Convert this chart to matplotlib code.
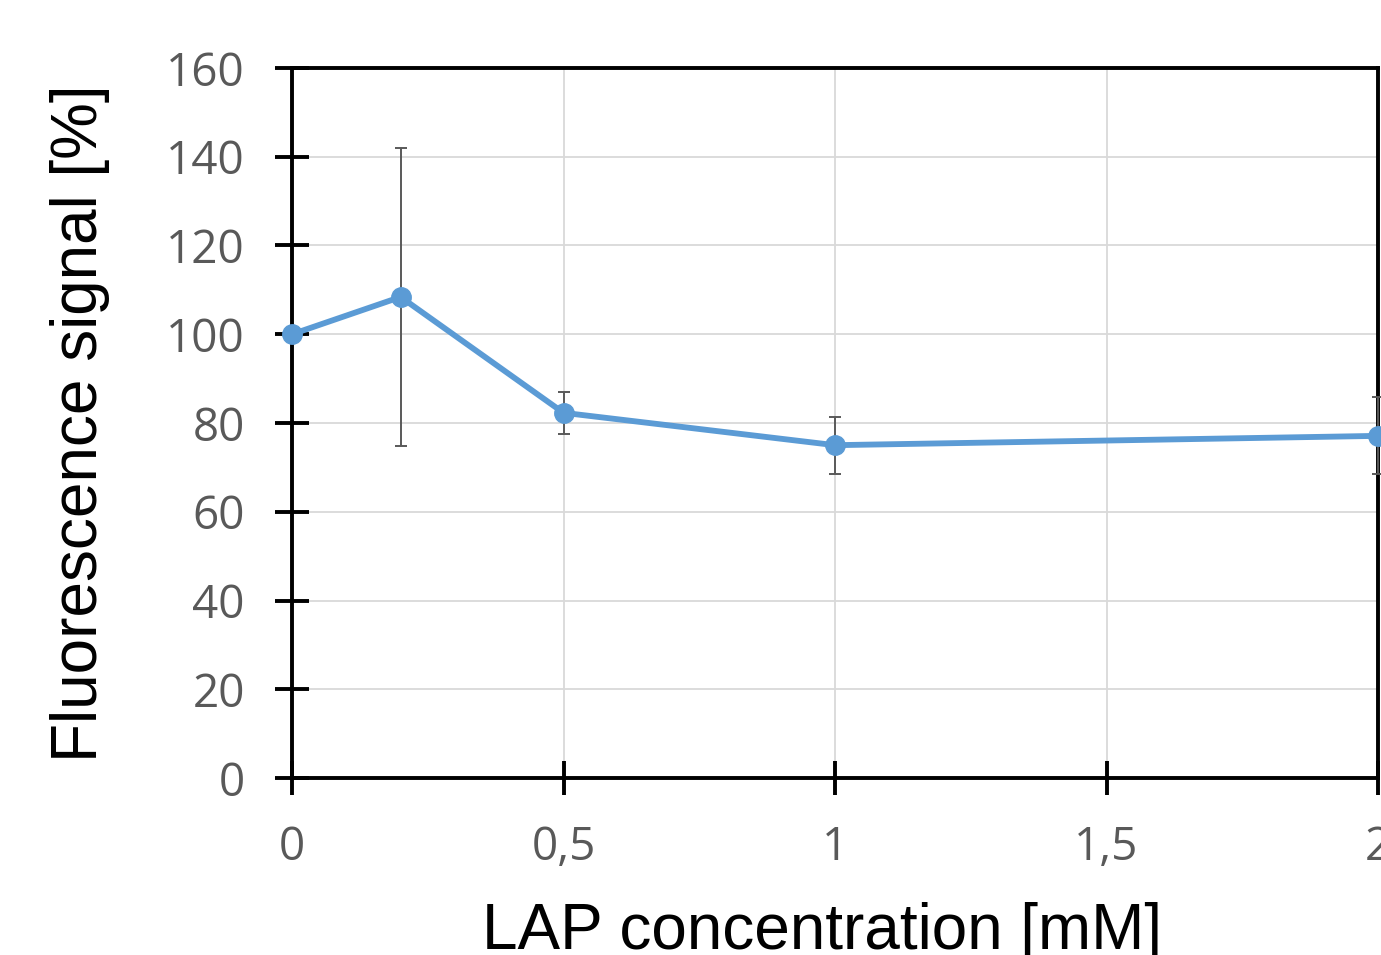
import matplotlib.pyplot as plt
from matplotlib.ticker import FuncFormatter

# Data
lap_mM = [0, 0.2, 0.5, 1, 2]
signal = [100, 108.4, 82.3, 75.0, 77.1]
signal_err = [0, 33.6, 4.7, 6.4, 8.7]

x_ticks = [0, 0.5, 1, 1.5, 2]
y_ticks = [0, 20, 40, 60, 80, 100, 120, 140, 160]

fig = plt.figure(figsize=(13.81, 9.55), dpi=100)
ax = fig.add_axes([292 / 1381, 177 / 955, 1086 / 1381, 710 / 955])

ax.errorbar(lap_mM, signal, yerr=signal_err, color='#5b9bd5', lw=4.2,
            marker='o', ms=14, ecolor='#595959', elinewidth=1.4,
            capsize=4.5, capthick=1.4, clip_on=False, zorder=3)

ax.set_xlim(0, 2)
ax.set_ylim(0, 160)
ax.set_xticks(x_ticks)
ax.set_yticks(y_ticks)
ax.xaxis.set_major_formatter(FuncFormatter(lambda v, p: f'{v:g}'.replace('.', ',')))

ax.grid(True, color='#d9d9d9', lw=1.3, zorder=0)
ax.set_axisbelow(True)

for s in ax.spines.values():
    s.set_linewidth(2.8)
    s.set_color('black')

ax.tick_params(axis='both', direction='inout', length=24, width=2.8,
               colors='black', labelcolor='#595959', labelsize=33)
ax.tick_params(axis='x', pad=22)
ax.tick_params(axis='y', pad=22)
for lbl in ax.get_xticklabels() + ax.get_yticklabels():
    lbl.set_fontfamily('Open Sans')

ax.set_xlabel('LAP concentration [mM]', fontsize=46, family='Liberation Sans', labelpad=22)
ax.xaxis.label.set_x(0.488)
ax.set_ylabel('Fluorescence signal [%]', fontsize=46, family='Liberation Sans', labelpad=40)

fig.savefig('out.png', dpi=100)
